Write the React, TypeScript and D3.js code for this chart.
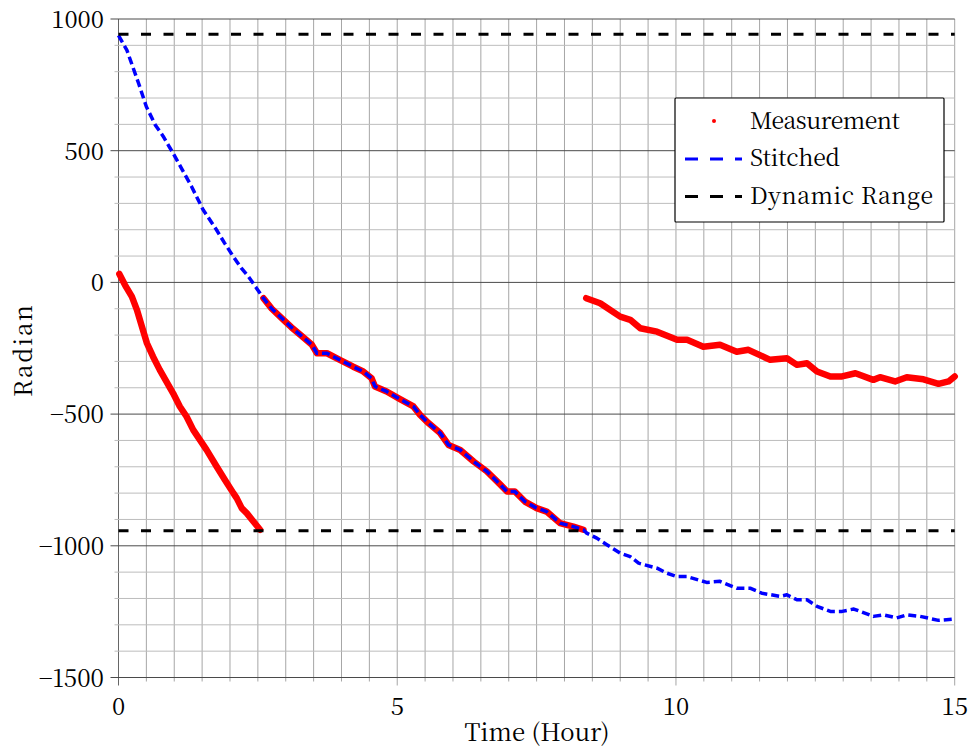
import React from "react";
import * as d3 from "d3";

// ---- data ----
const stitchedT = [0, 0.15, 0.36, 0.5, 0.66, 0.8, 0.98, 1.15, 1.31, 1.52, 1.76, 1.9, 2.06, 2.2, 2.33, 2.47, 2.6,
  2.75, 2.96, 3.1, 3.26, 3.47, 3.56, 3.74, 3.97, 4.21, 4.39, 4.54, 4.6, 4.81, 5.05, 5.29, 5.41, 5.56, 5.77, 5.92, 6.13,
  6.37, 6.61, 6.85, 6.97, 7.11, 7.29, 7.5, 7.68, 7.92, 8.16, 8.34,
  8.4, 8.58, 8.76, 9.0, 9.18, 9.33, 9.66, 9.84, 10.02, 10.2, 10.55, 10.79, 11.09, 11.33, 11.54, 11.87, 11.99, 12.17,
  12.35, 12.53, 12.77, 12.98, 13.19, 13.54, 13.72, 13.96, 14.14, 14.38, 14.71, 14.98];
const stitchedV = [938, 882, 756, 667, 598, 555, 490, 425, 364, 275, 199, 150, 98, 55, 22, -20, -60,
  -100, -142, -170, -199, -237, -269, -269, -294, -320, -338, -364, -395, -414, -443, -471, -503, -534, -572, -617, -636,
  -680, -718, -768, -794, -794, -832, -857, -870, -914, -927, -939,
  -952, -971, -996, -1028, -1041, -1066, -1085, -1104, -1117, -1117, -1139, -1135, -1161, -1161, -1180, -1192, -1186, -1205,
  -1205, -1230, -1249, -1249, -1240, -1268, -1262, -1274, -1262, -1268, -1283, -1278];

const meas1T = [0.015, 0.117, 0.24, 0.33, 0.42, 0.51, 0.62, 0.74, 0.98, 1.1, 1.22, 1.34, 1.46, 1.58, 1.76, 1.91, 2.06, 2.12, 2.21, 2.3, 2.42, 2.54];
const meas1V = [32, -10, -54, -104, -168, -231, -282, -332, -421, -471, -509, -560, -598, -636, -699, -750, -800, -819, -857, -876, -908, -939];

const meas2T = [2.6, 2.75, 2.96, 3.1, 3.26, 3.47, 3.56, 3.74, 3.97, 4.21, 4.39, 4.54, 4.6, 4.81, 5.05, 5.29, 5.41, 5.56, 5.77, 5.92, 6.13,
  6.37, 6.61, 6.85, 6.97, 7.11, 7.29, 7.5, 7.68, 7.92, 8.16, 8.34];
const meas2V = [-60, -100, -142, -170, -199, -237, -269, -269, -294, -320, -338, -364, -395, -414, -443, -471, -503, -534, -572, -617, -636,
  -680, -718, -768, -794, -794, -832, -857, -870, -914, -927, -939];

const meas3T = [8.39, 8.64, 9.0, 9.18, 9.36, 9.66, 10.02, 10.2, 10.49, 10.79, 11.09, 11.3, 11.69, 11.99, 12.17, 12.35, 12.53, 12.77, 12.98,
  13.22, 13.54, 13.66, 13.93, 14.14, 14.44, 14.71, 14.89, 15.0];
const meas3V = [-60, -79, -130, -142, -174, -187, -218, -218, -244, -237, -263, -256, -294, -288, -313, -307, -338, -357, -357,
  -345, -370, -360, -376, -360, -368, -385, -376, -357];

const dynamicRange = [942.5, -942.5];
const xTickLabels = [0, 5, 10, 15];
const yTickLabels = [1000, 500, 0, -500, -1000, -1500];
const legendLabels = ["Measurement", "Stitched", "Dynamic Range"];
const legendWidths = [150, 90, 183];

const zip = (t: number[], v: number[]) => t.map((d, i) => [d, v[i]] as [number, number]);

export default function App() {
  const W = 969, H = 749;
  const x = d3.scaleLinear().domain([0, 15]).range([118.5, 954.7]);
  const y = d3.scaleLinear().domain([-1500, 1000]).range([677.5, 19]);
  const line = d3.line<[number, number]>().x(d => x(d[0])).y(d => y(d[1]));

  const xGrid = d3.range(0, 15.001, 0.5);
  const yGrid = d3.range(-1500, 1000.001, 100);
  const fmt = (v: number) => (v < 0 ? "\u2212" + Math.abs(v) : String(v));
  const ts = { fontFamily: `"Noto Serif CJK SC"` };

  return (
    <svg width={W} height={H} style={{ position: "absolute", left: 0, top: 0, background: "#fff" }}>
      {/* grid */}
      {xGrid.map(t => {
        const major = Math.abs(t % 5) < 1e-9;
        return (
          <line key={"xg" + t} x1={x(t)} x2={x(t)} y1={y(1000)} y2={y(-1500) + (major ? 8 : 4)}
            stroke={t === 0 ? "#666" : "#a6a6a6"} strokeWidth={1} />
        );
      })}
      {yGrid.map(v => {
        const major = Math.abs(v % 500) < 1e-9;
        return (
          <line key={"yg" + v} x1={x(0) - (major ? 8 : 4)} x2={x(15)} y1={y(v)} y2={y(v)}
            stroke={major ? "#4a4a4a" : "#bdbdbd"} strokeWidth={1} />
        );
      })}

      {/* tick labels */}
      {yTickLabels.map(v => (
        <text key={"yl" + v} style={ts} x={104} y={y(v) + 9} textAnchor="end" fontSize={24} fill="#000">{fmt(v)}</text>
      ))}
      {xTickLabels.map(t => (
        <text key={"xl" + t} style={ts} x={x(t)} y={715} textAnchor="middle" fontSize={24} fill="#000">{fmt(t)}</text>
      ))}

      {/* axis titles */}
      <text style={ts} x={537} y={741} textAnchor="middle" fontSize={24} textLength={145} lengthAdjust="spacing">Time (Hour)</text>
      <text style={ts} transform={`translate(32,351) rotate(-90)`} textAnchor="middle" fontSize={24} textLength={92} lengthAdjust="spacing">Radian</text>

      {/* measurement */}
      {[zip(meas1T, meas1V), zip(meas2T, meas2V), zip(meas3T, meas3V)].map((seg, i) => (
        <path key={"m" + i} d={line(seg) || ""} fill="none" stroke="#ff0000" strokeWidth={6.5}
          strokeLinecap="round" strokeLinejoin="round" />
      ))}

      {/* stitched */}
      <path d={line(zip(stitchedT, stitchedV)) || ""} fill="none" stroke="#0000ff" strokeWidth={3.5}
        strokeDasharray="8,4" strokeLinejoin="round" />

      {/* dynamic range */}
      {dynamicRange.map(v => (
        <line key={"dr" + v} x1={x(0)} x2={x(15)} y1={y(v)} y2={y(v)} stroke="#000" strokeWidth={3}
          strokeDasharray="10,12.5" />
      ))}

      {/* legend */}
      <g>
        <rect x={675} y={98} width={269} height={124} fill="#fff" stroke="#000" strokeWidth={1.2} rx={1} />
        <circle cx={714} cy={121} r={2} fill="#ff0000" />
        <line x1={685} x2={742} y1={159} y2={159} stroke="#0000ff" strokeWidth={3} strokeDasharray="13,12" />
        <line x1={685} x2={742} y1={196.5} y2={196.5} stroke="#000" strokeWidth={3} strokeDasharray="13,12" />
        {legendLabels.map((s, i) => (
          <text key={s} style={ts} x={750} y={128.5 + i * 37.5} fontSize={23} textLength={legendWidths[i]}
            lengthAdjust="spacing" fill="#000">{s}</text>
        ))}
      </g>
    </svg>
  );
}
